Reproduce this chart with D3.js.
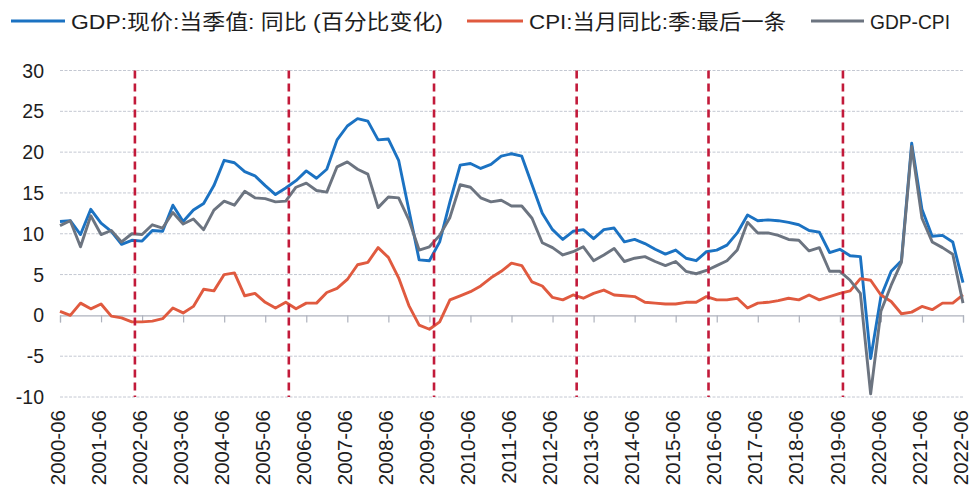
<!DOCTYPE html>
<html>
<head>
<meta charset="utf-8">
<script src="https://cdn.jsdelivr.net/npm/d3@7"></script>
<style>
body { margin: 0; background: #fff; }
text { font-family: "Liberation Sans", "Noto Sans CJK SC", sans-serif; fill: #1e1e1e; }
</style>
</head>
<body>
<script>
// quarterly, 2000-06 .. 2022-06
const quarters = [
    "2000-06", "2000-09", "2000-12",
    "2001-03", "2001-06", "2001-09", "2001-12",
    "2002-03", "2002-06", "2002-09", "2002-12",
    "2003-03", "2003-06", "2003-09", "2003-12",
    "2004-03", "2004-06", "2004-09", "2004-12",
    "2005-03", "2005-06", "2005-09", "2005-12",
    "2006-03", "2006-06", "2006-09", "2006-12",
    "2007-03", "2007-06", "2007-09", "2007-12",
    "2008-03", "2008-06", "2008-09", "2008-12",
    "2009-03", "2009-06", "2009-09", "2009-12",
    "2010-03", "2010-06", "2010-09", "2010-12",
    "2011-03", "2011-06", "2011-09", "2011-12",
    "2012-03", "2012-06", "2012-09", "2012-12",
    "2013-03", "2013-06", "2013-09", "2013-12",
    "2014-03", "2014-06", "2014-09", "2014-12",
    "2015-03", "2015-06", "2015-09", "2015-12",
    "2016-03", "2016-06", "2016-09", "2016-12",
    "2017-03", "2017-06", "2017-09", "2017-12",
    "2018-03", "2018-06", "2018-09", "2018-12",
    "2019-03", "2019-06", "2019-09", "2019-12",
    "2020-03", "2020-06", "2020-09", "2020-12",
    "2021-03", "2021-06", "2021-09", "2021-12",
    "2022-03", "2022-06"
];

const gdp = [
    11.5, 11.6, 9.9,
    13.0, 11.3, 10.3, 8.7,
    9.2, 9.1, 10.4, 10.3,
    13.5, 11.5, 12.9, 13.7,
    15.9, 19.0, 18.7, 17.6,
    17.1, 15.9, 14.8, 15.6,
    16.5, 17.7, 16.8, 17.9,
    21.5, 23.2, 24.1, 23.8,
    21.5, 21.6, 19.0, 12.9,
    6.8, 6.7, 9.0, 13.9,
    18.4, 18.6, 18.0, 18.5,
    19.5, 19.8, 19.5, 16.0,
    12.5, 10.5, 9.3, 10.3,
    10.5, 9.4, 10.5, 10.7,
    9.0, 9.3, 8.8, 8.1,
    7.5, 8.0, 7.0, 6.7,
    7.8, 8.0, 8.6, 10.1,
    12.3, 11.6, 11.7, 11.6,
    11.4, 11.1, 10.4, 10.2,
    7.7, 8.1, 7.3, 7.2,
    -5.3, 2.3, 5.4, 6.7,
    21.1, 13.0, 9.7, 9.8,
    9.0, 4.0
];

const cpi = [
    0.5, 0.0, 1.5,
    0.8, 1.4, -0.1, -0.3,
    -0.8, -0.8, -0.7, -0.4,
    0.9, 0.3, 1.1, 3.2,
    3.0, 5.0, 5.2, 2.4,
    2.7, 1.6, 0.9, 1.6,
    0.8, 1.5, 1.5, 2.8,
    3.3, 4.4, 6.2, 6.5,
    8.3, 7.1, 4.6, 1.2,
    -1.2, -1.7, -0.8, 1.9,
    2.4, 2.9, 3.6, 4.6,
    5.4, 6.4, 6.1, 4.1,
    3.6, 2.2, 1.9, 2.5,
    2.1, 2.7, 3.1, 2.5,
    2.4, 2.3, 1.6, 1.5,
    1.4, 1.4, 1.6, 1.6,
    2.3, 1.9, 1.9, 2.1,
    0.9, 1.5, 1.6, 1.8,
    2.1, 1.9, 2.5, 1.9,
    2.3, 2.7, 3.0, 4.5,
    4.3, 2.5, 1.7, 0.2,
    0.4, 1.1, 0.7, 1.5,
    1.5, 2.5
];

const gdpMinusCpi = [
    11.0, 11.6, 8.4,
    12.2, 9.9, 10.4, 9.0,
    10.0, 9.9, 11.1, 10.7,
    12.6, 11.2, 11.8, 10.5,
    12.9, 14.0, 13.5, 15.2,
    14.4, 14.3, 13.9, 14.0,
    15.7, 16.2, 15.3, 15.1,
    18.2, 18.8, 17.9, 17.3,
    13.2, 14.5, 14.4, 11.7,
    8.0, 8.4, 9.8, 12.0,
    16.0, 15.7, 14.4, 13.9,
    14.1, 13.4, 13.4, 11.9,
    8.9, 8.3, 7.4, 7.8,
    8.4, 6.7, 7.4, 8.2,
    6.6, 7.0, 7.2, 6.6,
    6.1, 6.6, 5.4, 5.1,
    5.5, 6.1, 6.7, 8.0,
    11.4, 10.1, 10.1, 9.8,
    9.3, 9.2, 7.9, 8.3,
    5.4, 5.4, 4.3, 2.7,
    -9.6, 0.5, 3.7, 6.5,
    20.7, 11.9, 9.0, 8.3,
    7.5, 1.5
];

const xTickLabels = [
    "2000-06", "2001-06", "2002-06", "2003-06", "2004-06", "2005-06",
    "2006-06", "2007-06", "2008-06", "2009-06", "2010-06", "2011-06",
    "2012-06", "2013-06", "2014-06", "2015-06", "2016-06", "2017-06",
    "2018-06", "2019-06", "2020-06", "2021-06", "2022-06"
];
const yTicks = [-10, -5, 0, 5, 10, 15, 20, 25, 30];

// red dashed markers, in quarter-index units (0 = 2000-06)
const breakQuarters = [7.3, 22.3, 36.45, 50.35, 63.2, 76.3];

const seriesNames = ["GDP:现价:当季值: 同比 (百分比变化)", "CPI:当月同比:季:最后一条", "GDP-CPI"];
const seriesColors = ["#1b72c2", "#e05a3f", "#6c7480"];

const width = 972, height = 493;
const plotLeft = 60, plotRight = 963, plotTop = 70.5, plotBottom = 397;

const svg = d3.select("body")
    .append("svg")
    .attr("width", width)
    .attr("height", height);

const x = d3.scalePoint()
    .domain(quarters)
    .range([plotLeft, plotRight]);

const xIndex = d3.scaleLinear()
    .domain([0, quarters.length - 1])
    .range([plotLeft, plotRight]);

const y = d3.scaleLinear()
    .domain([-10, 30])
    .range([plotBottom, plotTop]);

// grid
svg.append("g")
    .selectAll("line")
    .data(yTicks.filter(d => d !== 0))
    .enter()
    .append("line")
    .attr("x1", plotLeft)
    .attr("x2", plotRight)
    .attr("y1", d => y(d))
    .attr("y2", d => y(d))
    .attr("stroke", "#c4c8d2")
    .attr("stroke-width", 1)
    .attr("stroke-dasharray", "3,1.5");

// y labels
svg.append("g")
    .selectAll("text")
    .data(yTicks)
    .enter()
    .append("text")
    .attr("x", 44)
    .attr("y", d => y(d))
    .attr("dy", "0.36em")
    .attr("text-anchor", "end")
    .style("font-size", "19.5px")
    .text(d => d);

// zero axis with ticks
const xAxis = d3.axisBottom(x)
    .tickValues(xTickLabels)
    .tickSize(7)
    .tickFormat("");

svg.append("g")
    .attr("transform", `translate(0,${y(0)})`)
    .call(xAxis)
    .call(g => g.select(".domain").attr("stroke", "#aeb2bd").attr("stroke-width", 1.2))
    .call(g => g.selectAll(".tick line").attr("stroke", "#aeb2bd").attr("stroke-width", 1.2));

// x labels, rotated
svg.append("g")
    .selectAll("text")
    .data(xTickLabels)
    .enter()
    .append("text")
    .attr("transform", d => `translate(${x(d) - 1.5},410) rotate(-90)`)
    .attr("dy", "0.3em")
    .attr("text-anchor", "end")
    .style("font-size", "20.5px")
    .text(d => d);

// series
const line = d3.line()
    .x((d, i) => x(quarters[i]))
    .y(d => y(d));

[gdp, cpi, gdpMinusCpi].forEach(function(values, k) {
    svg.append("path")
        .datum(values)
        .attr("fill", "none")
        .attr("stroke", seriesColors[k])
        .attr("stroke-width", 2.9)
        .attr("stroke-linejoin", "round")
        .attr("d", line);
});

// red dashed markers
svg.append("g")
    .selectAll("line")
    .data(breakQuarters)
    .enter()
    .append("line")
    .attr("x1", d => xIndex(d))
    .attr("x2", d => xIndex(d))
    .attr("y1", y(30))
    .attr("y2", y(-10))
    .attr("stroke", "#c21a3a")
    .attr("stroke-width", 2.6)
    .attr("stroke-dasharray", "8,5");

// legend
const legendLayout = [
    { x0: 11, x1: 65, tx: 71, tw: 372 },
    { x0: 467, x1: 523, tx: 529, tw: 257 },
    { x0: 811, x1: 864, tx: 870, tw: 80 }
];
const legend = svg.append("g");
legendLayout.forEach(function(p, k) {
    legend.append("line")
        .attr("x1", p.x0)
        .attr("x2", p.x1)
        .attr("y1", 21)
        .attr("y2", 21)
        .attr("stroke", seriesColors[k])
        .attr("stroke-width", 3);
    legend.append("text")
        .attr("x", p.tx)
        .attr("y", 21)
        .attr("dy", "0.36em")
        .attr("textLength", p.tw)
        .attr("lengthAdjust", "spacingAndGlyphs")
        .style("font-size", "21px")
        .text(seriesNames[k]);
});
</script>
</body>
</html>
